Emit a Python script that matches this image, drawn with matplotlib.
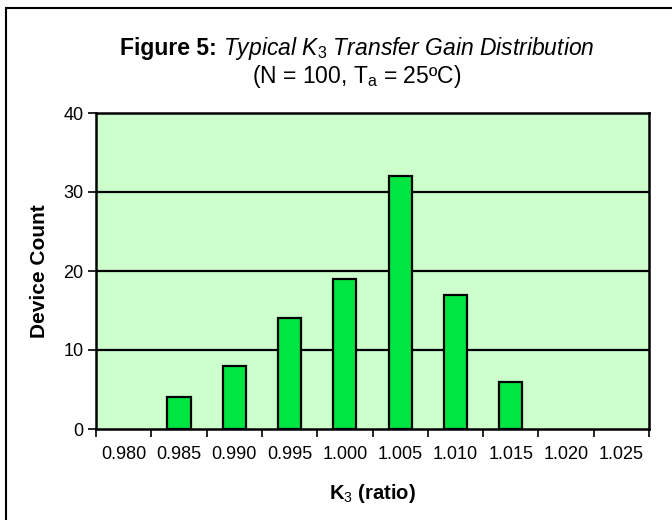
import matplotlib
matplotlib.use('Agg')
import matplotlib.pyplot as plt
from matplotlib.patches import Rectangle
import numpy as np

# ── Datos ──
categories = ['0.980', '0.985', '0.990', '0.995', '1.000',
              '1.005', '1.010', '1.015', '1.020', '1.025']
counts = [0, 4, 8, 14, 19, 32, 17, 6, 0, 0]
y_ticks = [0, 10, 20, 30, 40]

plt.rcParams['font.family'] = ['Liberation Sans', 'DejaVu Sans']
plt.rcParams['mathtext.fontset'] = 'custom'
plt.rcParams['mathtext.rm'] = 'Liberation Sans'
plt.rcParams['mathtext.it'] = 'Liberation Sans:italic'
plt.rcParams['mathtext.bf'] = 'Liberation Sans:bold'

W, H = 672, 520
fig = plt.figure(figsize=(W / 100, H / 100), dpi=100)
ax = fig.add_axes([96 / W, 1 - 429 / H, (649 - 96) / W, (429 - 113) / H])

# borde exterior del gráfico
fig.patches.append(Rectangle((6 / W, -0.1), 1.2, 1.1 - 8 / H, transform=fig.transFigure,
                             fill=False, edgecolor='black', linewidth=1.5))

x = np.arange(len(categories))
vals = np.array(counts, dtype=float)
shown = vals > 0  # las barras vacías no se dibujan
ax.set_facecolor('#ccffcc')
ax.bar(x[shown], vals[shown], width=0.42, color='#00e640', edgecolor='black',
       linewidth=1.6, zorder=3)

ax.set_xlim(-0.5, len(categories) - 0.5)
ax.set_ylim(0, 40)
ax.set_yticks(y_ticks)
ax.tick_params(axis='y', direction='out', length=6, width=1.2, labelsize=13, pad=3)
for yv in y_ticks[1:-1]:
    ax.axhline(yv, color='black', linewidth=1.6, zorder=1)

ax.set_xticks(x)
ax.set_xticklabels(categories)
ax.set_xticks(np.arange(len(categories) + 1) - 0.5, minor=True)
ax.tick_params(axis='x', which='major', length=0, labelsize=13, pad=12)
ax.tick_params(axis='x', which='minor', direction='out', length=6, width=1.2)

for s in ax.spines.values():
    s.set_linewidth(1.8)

ax.set_ylabel('Device Count', fontsize=15, fontweight='bold', labelpad=10)
ax.set_xlabel(r'K$_3$ (ratio)', fontsize=14.5, fontweight='bold', labelpad=14)

# ── Título en dos piezas: negrita + cursiva ──
renderer = fig.canvas.get_renderer()
t1 = fig.text(0, 1 - 48 / H, 'Figure 5: ', fontsize=16.5, fontweight='bold', va='center')
t2 = fig.text(0, 1 - 48 / H, r'$\mathit{Typical\ K_3\ Transfer\ Gain\ Distribution}$',
              fontsize=16.5, va='center')
w1 = t1.get_window_extent(renderer).width
w2 = t2.get_window_extent(renderer).width
x0 = 357 - (w1 + w2) / 2
t1.set_x(x0 / W)
t2.set_x((x0 + w1) / W)
fig.text(357 / W, 1 - 77 / H, r'(N = 100, T$_\mathrm{a}$ = 25ºC)',
         ha='center', va='center', fontsize=16.5)

fig.savefig('out.png', dpi=100)
